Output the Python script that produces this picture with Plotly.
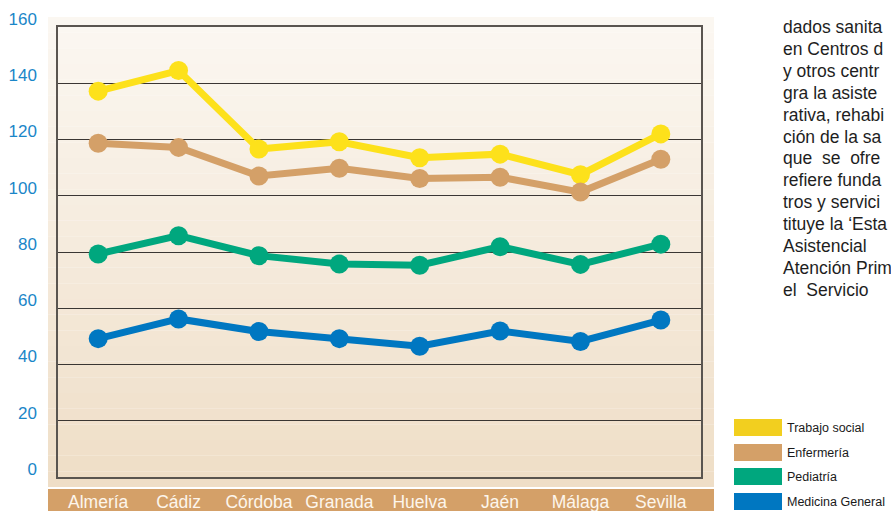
import plotly.graph_objects as go

# Data
provincias = ['Almería', 'Cádiz', 'Córdoba', 'Granada', 'Huelva', 'Jaén', 'Málaga', 'Sevilla']
trabajo_social = [137.2, 144.5, 116.6, 119.2, 113.5, 114.8, 107.5, 122.0]
enfermeria = [118.7, 117.2, 107.0, 109.8, 106.1, 106.6, 101.3, 113.0]
pediatria = [79.3, 85.8, 78.7, 75.7, 75.3, 81.9, 75.6, 82.8]
medicina_general = [49.2, 56.2, 51.7, 49.2, 46.5, 51.9, 48.2, 55.8]
y_ticks = [0, 20, 40, 60, 80, 100, 120, 140, 160]

series_names = ['Trabajo social', 'Enfermería', 'Pediatría', 'Medicina General']
series_values = [trabajo_social, enfermeria, pediatria, medicina_general]
line_colors = ['#fde11b', '#d4a068', '#00a77e', '#0077c1']
swatch_colors = ['#f2cf1f', '#d4a068', '#00a77e', '#0077c1']

side_text = [
    'dados sanita', 'en Centros d', 'y otros centr', 'gra la asiste',
    'rativa, rehabi', 'ción de la sa', 'que  se  ofre', 'refiere funda',
    'tros y servici', 'tituye la ‘Esta', 'Asistencial', 'Atención Prim',
    'el  Servicio',
]

W, H = 891, 511
L, R, T, B = 58, 190, 27, 34
PW, PH = W - L - R, H - T - B


def px(x):
    return (x - L) / PW


def py(y):
    return (H - B - y) / PH


fig = go.Figure()

for name, vals, col in zip(series_names, series_values, line_colors):
    fig.add_trace(go.Scatter(
        x=provincias,
        y=vals,
        name=name,
        mode='lines+markers',
        line=dict(color=col, width=7),
        marker=dict(color=col, size=19),
        showlegend=False,
    ))

shapes = []

# background panel with a soft vertical gradient
top_rgb = (251, 247, 241)
bot_rgb = (239, 222, 199)
n_strips = 30
y0, y1 = 17, 487
for i in range(n_strips):
    t = i / (n_strips - 1)
    c = tuple(round(a + (b - a) * t) for a, b in zip(top_rgb, bot_rgb))
    ya = y0 + (y1 - y0) * i / n_strips
    yb = y0 + (y1 - y0) * (i + 1) / n_strips
    shapes.append(dict(
        type='rect', xref='paper', yref='paper', layer='below',
        x0=px(48), x1=px(714), y0=py(yb), y1=py(ya),
        fillcolor='rgb(%d,%d,%d)' % c, line=dict(width=0),
    ))

# orange category band
shapes.append(dict(
    type='rect', xref='paper', yref='paper', layer='below',
    x0=px(48), x1=px(714), y0=py(511), y1=py(489),
    fillcolor='#d4a068', line=dict(width=0),
))

# legend swatches
annotations = []
swatch_tops = [419, 444, 468, 493]
for name, col, ytop in zip(series_names, swatch_colors, swatch_tops):
    shapes.append(dict(
        type='rect', xref='paper', yref='paper',
        x0=px(734), x1=px(782), y0=py(ytop + 17), y1=py(ytop),
        fillcolor=col, line=dict(width=0),
    ))
    annotations.append(dict(
        text=name, xref='paper', yref='paper',
        x=px(785), y=py(ytop + 8.5), xanchor='left', yanchor='middle',
        showarrow=False,
        font=dict(family='Liberation Sans, Arial', size=12.5, color='#1a1a1a'),
    ))

# body text column on the right
for i, line in enumerate(side_text):
    annotations.append(dict(
        text=line, xref='paper', yref='paper',
        x=px(781), y=py(27 + i * 21.9), xanchor='left', yanchor='middle',
        showarrow=False,
        font=dict(family='Liberation Sans Narrow, Liberation Sans, Arial',
                  size=17.5, color='#1e1e1e'),
    ))

fig.update_layout(
    width=W,
    height=H,
    margin=dict(l=L, r=R, t=T, b=B, pad=0, autoexpand=False),
    paper_bgcolor='white',
    plot_bgcolor='rgba(0,0,0,0)',
    shapes=shapes,
    annotations=annotations,
    xaxis=dict(
        range=[-0.5, 7.5],
        automargin=False,
        showgrid=False,
        zeroline=False,
        showline=True,
        mirror=True,
        linecolor='#5a5550',
        linewidth=1.5,
        ticks='',
        ticklabelstandoff=8,
        tickfont=dict(family='Liberation Sans, Arial', size=17.5, color='#fdf6ec'),
    ),
    yaxis=dict(
        range=[0, 160],
        automargin=False,
        tickvals=y_ticks,
        showgrid=True,
        gridcolor='#3a3633',
        gridwidth=1,
        zeroline=False,
        showline=True,
        mirror=True,
        linecolor='#5a5550',
        linewidth=1.5,
        ticks='',
        ticklabelstandoff=16,
        ticklabelshift=-8,
        tickfont=dict(family='Liberation Sans, Arial', size=17, color='#1a86c8'),
    ),
)

# drop the browser's default page margin so the figure fills the window
fig.write_html(
    'out.html',
    config={'displayModeBar': False},
    post_script="document.body.style.margin='0';",
)
